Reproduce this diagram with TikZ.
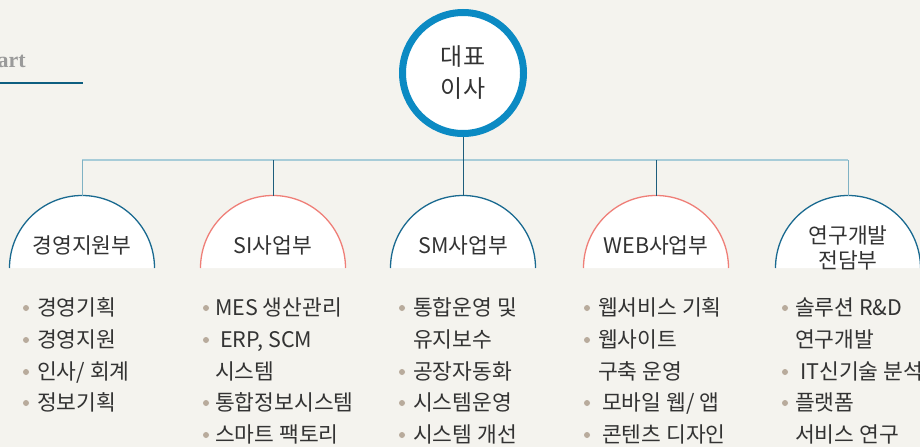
\documentclass[tikz,border=0pt]{standalone}
\usepackage{fontspec}
\setmainfont{Liberation Serif}
\newfontfamily\kr{Noto Sans CJK KR}
\definecolor{bg}{HTML}{F4F3EE}
\definecolor{ceoblue}{HTML}{0B8AC3}
\definecolor{darkline}{HTML}{1D5D7C}
\definecolor{busc}{HTML}{A7CCD8}
\definecolor{endc}{HTML}{7FB2C4}
\definecolor{domeblue}{HTML}{1A6A90}
\definecolor{domered}{HTML}{EF7F78}
\definecolor{bulletc}{HTML}{B8AB9C}
\definecolor{txt}{HTML}{333333}
\definecolor{ttlgray}{HTML}{9A9A9A}
\definecolor{ulc}{HTML}{0D5E80}
\begin{document}
\begin{tikzpicture}[x=1pt,y=-1pt,
  krf/.style={font=\kr\fontsize{21.5}{24}\selectfont, text=txt},
  item/.style={krf, anchor=west, inner sep=0pt, text height=15pt, text depth=0pt},
  title/.style={krf, inner sep=0pt, text height=15pt, text depth=0pt},
  dome/.style={fill=white, line width=1.3pt},
  dot/.style={fill=bulletc},
  dark/.style={draw=darkline, line width=0.9pt},
  ends/.style={draw=endc, line width=1pt},
  bus/.style={draw=busc, line width=1.6pt}]
\fill[bg] (0,0) rectangle (920,447);
\useasboundingbox (0,0) rectangle (920,447);

% heading fragment
\node[font=\bfseries\fontsize{22}{22}\selectfont, text=ttlgray, anchor=base east, inner sep=0pt] (hd) at (26,67) {art};
\draw[ulc, line width=2pt] (0,83) -- (83,83);

% CEO
\node[circle, minimum size=121pt, inner sep=0pt, draw=ceoblue, line width=7pt, fill=white,
      font=\kr\fontsize{24}{32}\selectfont, text=txt, align=center] (ceo) at (463,73) {대표\\이사};

% dome tops
\coordinate (t1) at (82,196);
\coordinate (t2) at (273,196);
\coordinate (t3) at (463,196);
\coordinate (t4) at (656,196);
\coordinate (t5) at (848,196);
\coordinate (busy) at (463,160);

% domes
\path[dome, draw=domeblue] (9.5,268) arc[start angle=180, end angle=0, radius=72.5pt];
\path[dome, draw=domered] (200.5,268) arc[start angle=180, end angle=0, radius=72.5pt];
\path[dome, draw=domeblue] (390.5,268) arc[start angle=180, end angle=0, radius=72.5pt];
\path[dome, draw=domered] (583.5,268) arc[start angle=180, end angle=0, radius=72.5pt];
\path[dome, draw=domeblue] (775.5,268) arc[start angle=180, end angle=0, radius=72.5pt];

% connectors
\draw[bus] (t1 |- busy) -- (t5 |- busy);
\draw[ends] (t1 |- busy) -- (t1);
\draw[ends] (t5 |- busy) -- (t5);
\draw[dark] (t2 |- busy) -- (t2);
\draw[dark] (t4 |- busy) -- (t4);
\draw[dark] (ceo.south) -- (t3);

% titles
\node[title] (d1) at (82,246) {경영지원부};
\node[title] (d2) at (273,246) {SI사업부};
\node[title] (d3) at (463,246) {SM사업부};
\node[title] (d4) at (656,246) {WEB사업부};
\node[title] (d5) at (848,236) {연구개발};
\node[title] (d5b) at (848,261) {전담부};

% column 1
\fill[dot] (26,308) circle[radius=3pt];
\fill[dot] (26,340) circle[radius=3pt];
\fill[dot] (26,372) circle[radius=3pt];
\fill[dot] (26,403) circle[radius=3pt];
\node[item] (c1a) at (37,308) {경영기획};
\node[item] (c1b) at (37,340) {경영지원};
\node[item] (c1c) at (37,372) {인사/ 회계};
\node[item] (c1d) at (37,403) {정보기획};

% column 2
\fill[dot] (206,308) circle[radius=3pt];
\fill[dot] (206,340) circle[radius=3pt];
\fill[dot] (206,403) circle[radius=3pt];
\fill[dot] (206,435) circle[radius=3pt];
\node[item] (c2a) at (215,308) {MES 생산관리};
\node[item] (c2b) at (220,340) {ERP, SCM};
\node[item] (c2c) at (215,372) {시스템};
\node[item] (c2d) at (215,403) {통합정보시스템};
\node[item] (c2e) at (215,435) {스마트 팩토리};

% column 3
\fill[dot] (402,308) circle[radius=3pt];
\fill[dot] (402,372) circle[radius=3pt];
\fill[dot] (402,403) circle[radius=3pt];
\fill[dot] (402,435) circle[radius=3pt];
\node[item] (c3a) at (413,308) {통합운영 및};
\node[item] (c3b) at (413,340) {유지보수};
\node[item] (c3c) at (413,372) {공장자동화};
\node[item] (c3d) at (413,403) {시스템운영};
\node[item] (c3e) at (413,435) {시스템 개선};

% column 4
\fill[dot] (587,308) circle[radius=3pt];
\fill[dot] (587,340) circle[radius=3pt];
\fill[dot] (587,403) circle[radius=3pt];
\fill[dot] (587,435) circle[radius=3pt];
\node[item] (c4a) at (598,308) {웹서비스 기획};
\node[item] (c4b) at (598,340) {웹사이트};
\node[item] (c4c) at (598,372) {구축 운영};
\node[item] (c4d) at (602,403) {모바일 웹/ 앱};
\node[item] (c4e) at (602,435) {콘텐츠 디자인};

% column 5
\fill[dot] (785,308) circle[radius=3pt];
\fill[dot] (785,372) circle[radius=3pt];
\fill[dot] (785,403) circle[radius=3pt];
\node[item] (c5a) at (795,308) {솔루션 R\&D};
\node[item] (c5b) at (795,340) {연구개발};
\node[item] (c5c) at (800,372) {IT신기술 분석};
\node[item] (c5d) at (795,403) {플랫폼};
\node[item] (c5e) at (795,435) {서비스 연구};
\end{tikzpicture}
\end{document}
